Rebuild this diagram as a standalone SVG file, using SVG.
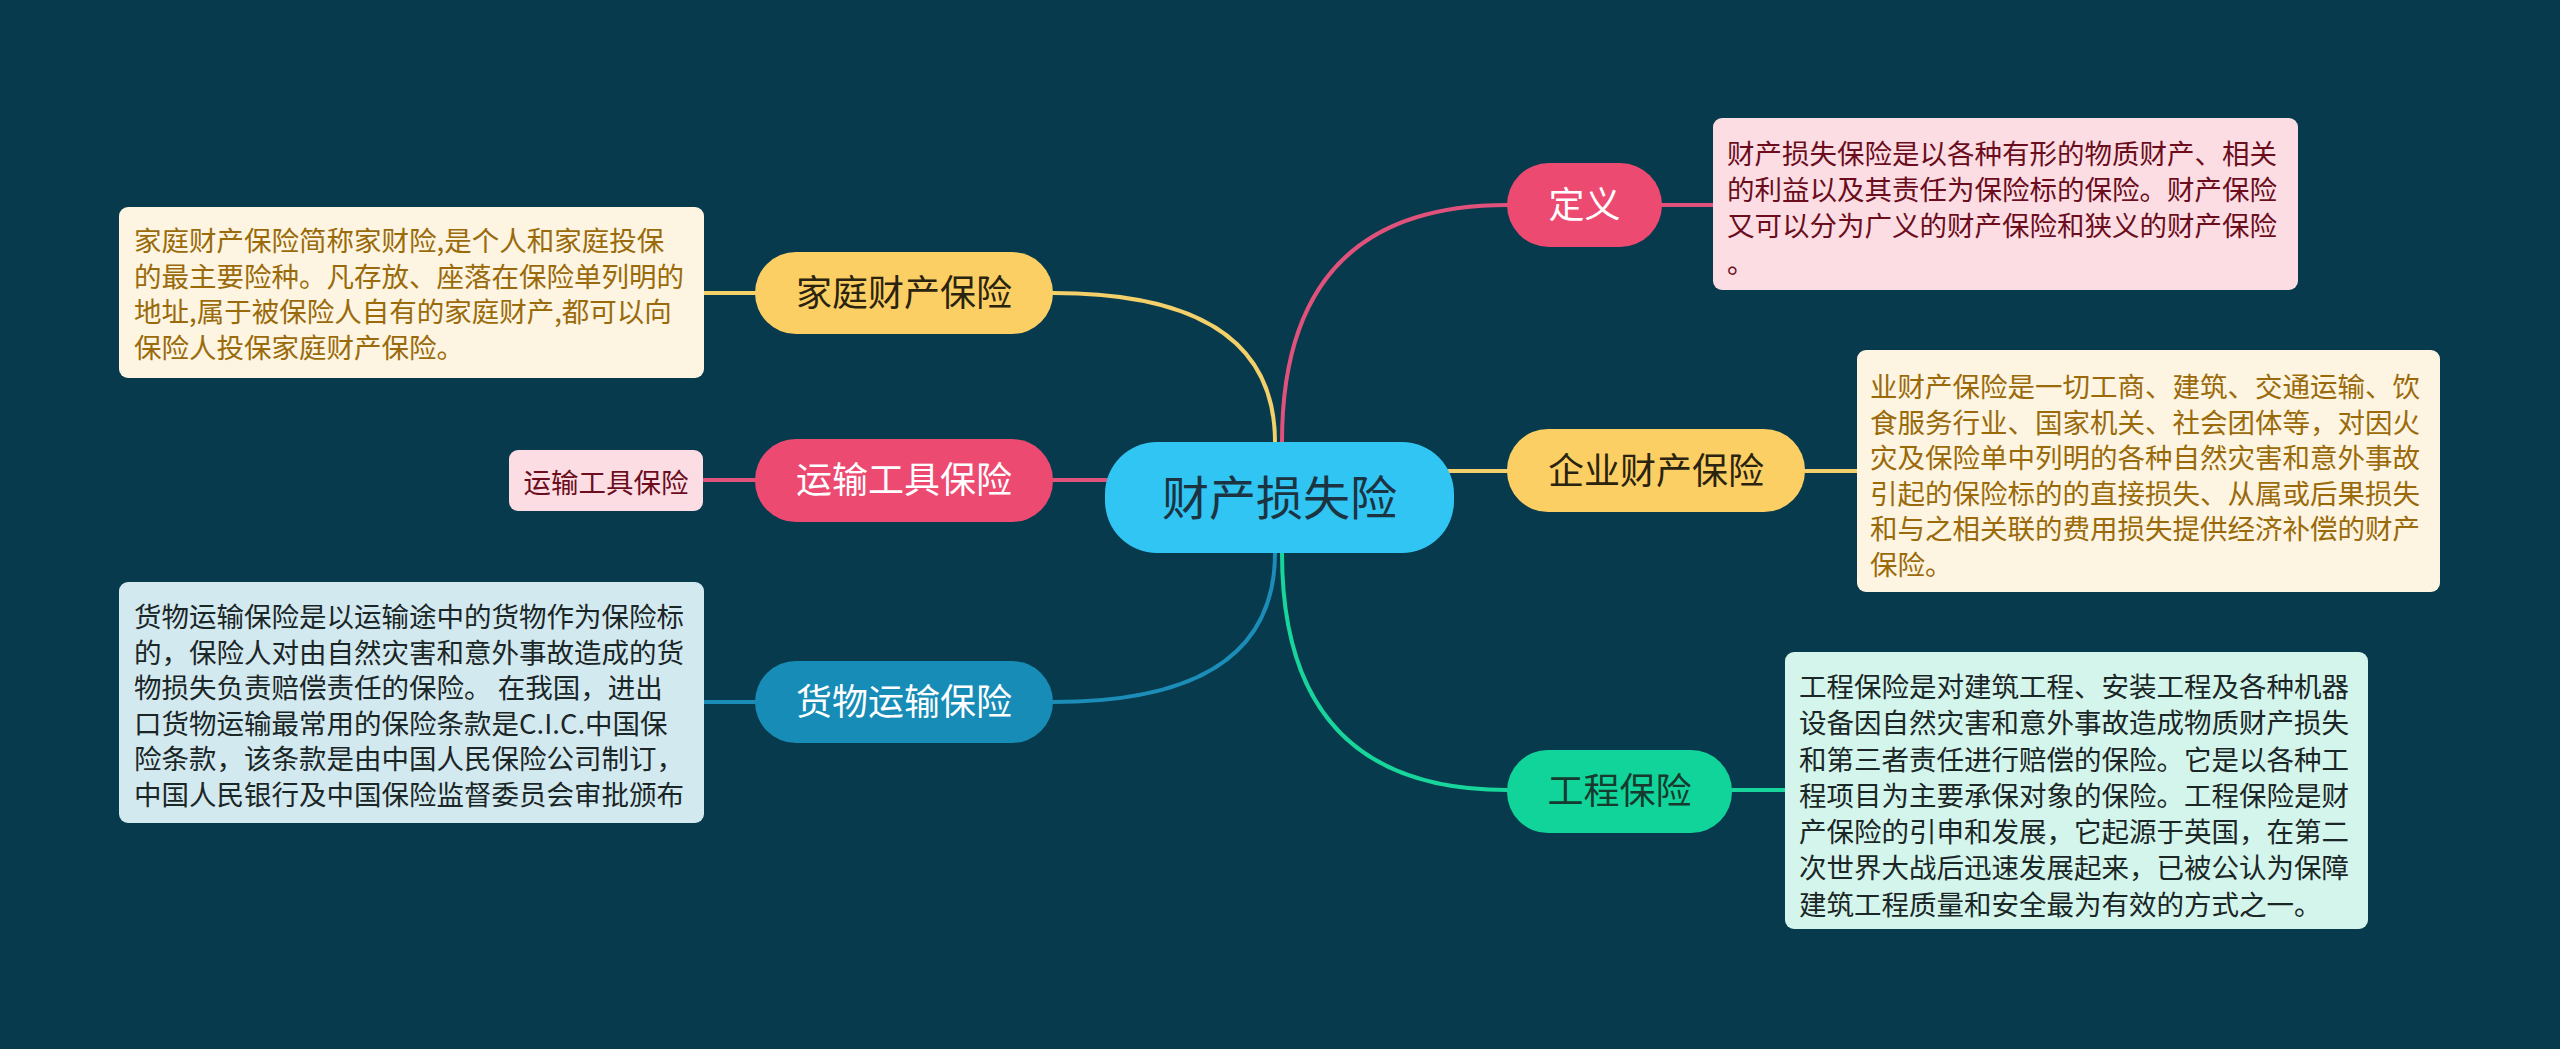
<svg xmlns="http://www.w3.org/2000/svg" width="2560" height="1049" viewBox="0 0 2560 1049">
<defs>
<style>
text{font-family:"Noto Sans CJK SC","Noto Sans",sans-serif;}
.node{font-size:36px;text-anchor:middle;}
.desc{font-size:27.5px;}
.con{fill:none;stroke-width:4;stroke-linecap:round;}
.y{stroke:#F3D06A;}
.p{stroke:#E0527B;}
.b{stroke:#1B8DB8;}
.g{stroke:#18D59C;}
.box{stroke:none;}
</style>
</defs>
<rect x="0" y="0" width="2560" height="1049" fill="#073A4C"/>
<g id="connectors">
<path class="con y" d="M1053,293 Q1275,293 1275,442"/>
<path class="con p" d="M1053,480 L1110,480"/>
<path class="con b" d="M1053,702 Q1275,702 1275,553"/>
<path class="con p" d="M1282,442 Q1282,205 1507,205"/>
<path class="con y" d="M1430,471 L1507,471"/>
<path class="con g" d="M1282,553 Q1282,790 1507,790"/>
<path class="con y" d="M704,293 L755,293"/>
<path class="con p" d="M704,480 L755,480"/>
<path class="con b" d="M704,702 L755,702"/>
<path class="con p" d="M1660,205 L1713,205"/>
<path class="con y" d="M1805,471 L1857,471"/>
<path class="con g" d="M1732,790 L1785,790"/>
</g>
<g id="root">
<rect x="1105" y="442" width="349" height="111" rx="52" fill="#30C5F3"/>
<text x="1279.5" y="515" font-size="47" text-anchor="middle" fill="#1C3442">财产损失险</text>
</g>
<g id="family">
<rect x="755" y="252" width="298" height="82" rx="41" fill="#FBCF63"/>
<text class="node" x="904" y="306" fill="#2A2310">家庭财产保险</text>
</g>
<g id="family-desc">
<rect x="119" y="207" width="585" height="171" rx="9" fill="#FDF5E1"/>
<text class="desc" fill="#9A6A0B" x="134" y="251"><tspan x="134" y="251">家庭财产保险简称家财险,是个人和家庭投保</tspan><tspan x="134" y="287">的最主要险种。凡存放、座落在保险单列明的</tspan><tspan x="134" y="322">地址,属于被保险人自有的家庭财产,都可以向</tspan><tspan x="134" y="358">保险人投保家庭财产保险。</tspan></text>
</g>
<g id="vehicle">
<rect x="755" y="439" width="298" height="83" rx="41" fill="#ED4A72"/>
<text class="node" x="904" y="493" fill="#FFFFFF">运输工具保险</text>
</g>
<g id="vehicle-desc">
<rect x="509" y="450" width="194" height="61" rx="9" fill="#FCDDE3"/>
<text class="desc" x="606" y="493" text-anchor="middle" fill="#6B0D1D">运输工具保险</text>
</g>
<g id="cargo">
<rect x="755" y="661" width="298" height="82" rx="41" fill="#168CB6"/>
<text class="node" x="904" y="715" fill="#FFFFFF">货物运输保险</text>
</g>
<g id="cargo-desc">
<rect x="119" y="582" width="585" height="241" rx="9" fill="#D3E9F0"/>
<text class="desc" fill="#1B2626" x="134" y="627"><tspan x="134" y="627">货物运输保险是以运输途中的货物作为保险标</tspan><tspan x="134" y="663">的，保险人对由自然灾害和意外事故造成的货</tspan><tspan x="134" y="698">物损失负责赔偿责任的保险。 在我国，进出</tspan><tspan x="134" y="734">口货物运输最常用的保险条款是C.I.C.中国保</tspan><tspan x="134" y="769">险条款，该条款是由中国人民保险公司制订，</tspan><tspan x="134" y="805">中国人民银行及中国保险监督委员会审批颁布</tspan></text>
</g>
<g id="definition">
<rect x="1507" y="163" width="155" height="84" rx="42" fill="#ED4A72"/>
<text class="node" x="1584.5" y="218" fill="#FFFFFF">定义</text>
</g>
<g id="definition-desc">
<rect x="1713" y="118" width="585" height="172" rx="9" fill="#FCDDE3"/>
<text class="desc" fill="#6B0D1D" x="1727" y="164"><tspan x="1727" y="164">财产损失保险是以各种有形的物质财产、相关</tspan><tspan x="1727" y="200">的利益以及其责任为保险标的保险。财产保险</tspan><tspan x="1727" y="236">又可以分为广义的财产保险和狭义的财产保险</tspan><tspan x="1727" y="273">。</tspan></text>
</g>
<g id="enterprise">
<rect x="1507" y="429" width="298" height="83" rx="41" fill="#FBCF63"/>
<text class="node" x="1656" y="484" fill="#2A2310">企业财产保险</text>
</g>
<g id="enterprise-desc">
<rect x="1857" y="350" width="583" height="242" rx="9" fill="#FDF5E1"/>
<text class="desc" fill="#9A6A0B" x="1870" y="397"><tspan x="1870" y="397">业财产保险是一切工商、建筑、交通运输、饮</tspan><tspan x="1870" y="433">食服务行业、国家机关、社会团体等，对因火</tspan><tspan x="1870" y="468">灾及保险单中列明的各种自然灾害和意外事故</tspan><tspan x="1870" y="504">引起的保险标的的直接损失、从属或后果损失</tspan><tspan x="1870" y="539">和与之相关联的费用损失提供经济补偿的财产</tspan><tspan x="1870" y="575">保险。</tspan></text>
</g>
<g id="engineering">
<rect x="1507" y="750" width="225" height="83" rx="41" fill="#11D49B"/>
<text class="node" x="1619.5" y="804" fill="#163A2E">工程保险</text>
</g>
<g id="engineering-desc">
<rect x="1785" y="652" width="583" height="277" rx="9" fill="#D4F5EC"/>
<text class="desc" fill="#1B2626" x="1799" y="697"><tspan x="1799" y="697">工程保险是对建筑工程、安装工程及各种机器</tspan><tspan x="1799" y="733">设备因自然灾害和意外事故造成物质财产损失</tspan><tspan x="1799" y="770">和第三者责任进行赔偿的保险。它是以各种工</tspan><tspan x="1799" y="806">程项目为主要承保对象的保险。工程保险是财</tspan><tspan x="1799" y="842">产保险的引申和发展，它起源于英国，在第二</tspan><tspan x="1799" y="878">次世界大战后迅速发展起来，已被公认为保障</tspan><tspan x="1799" y="915">建筑工程质量和安全最为有效的方式之一。</tspan></text>
</g>
</svg>
